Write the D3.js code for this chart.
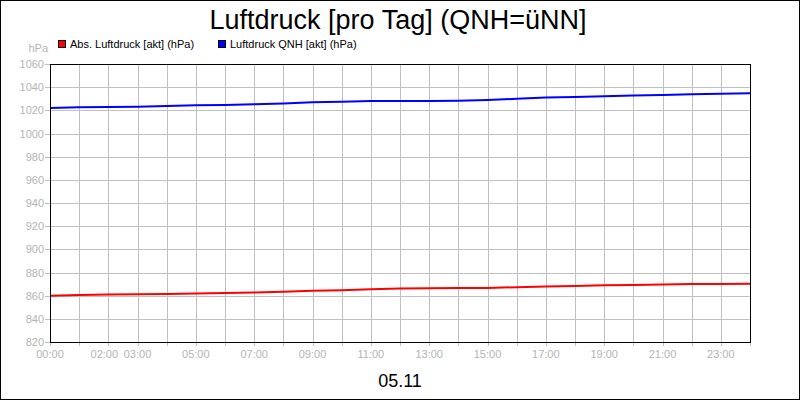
<!DOCTYPE html>
<html>
<head>
<meta charset="utf-8">
<script src="https://cdn.jsdelivr.net/npm/d3@7"></script>
<style>
  html, body { margin: 0; padding: 0; background: #fff; }
  text { font-family: "Liberation Sans", Arial, sans-serif; }
</style>
</head>
<body>
<div class="chart"></div>
<script>
// hourly readings for 05.11, 00:00 .. 24:00
var hours = d3.range(0, 25);
var absPressure = [860.0, 860.6, 860.9, 861.2, 861.4, 861.8, 862.3, 862.7, 863.3, 864.2, 864.7, 865.6, 866.1,
                   866.4, 866.6, 866.7, 867.3, 867.9, 868.4, 869.0, 869.3, 869.7, 870.0, 870.1, 870.3];
var qnhPressure = [1022.0, 1022.6, 1022.9, 1023.2, 1023.7, 1024.3, 1024.7, 1025.2, 1026.0, 1026.9, 1027.5, 1028.0, 1028.1,
                   1028.0, 1028.3, 1028.9, 1030.0, 1031.0, 1031.5, 1032.1, 1032.7, 1033.3, 1033.8, 1034.4, 1034.7];
var yTicks = d3.range(820, 1061, 20);
var xLabelHours = [0, 2, 3, 5, 7, 9, 11, 13, 15, 17, 19, 21, 23];
var seriesNames = ['Abs. Luftdruck [akt] (hPa)', 'Luftdruck QNH [akt] (hPa)'];
var seriesColors = ['#ff0000', '#0000ff'];

var width = 800, height = 400;
var margin = {top: 64, right: 50, bottom: 58, left: 50};

var svg = d3.select('.chart').append('svg').attr('width', width).attr('height', height);
svg.append('rect').attr('x', 0.5).attr('y', 0.5).attr('width', width - 1).attr('height', height - 1)
    .attr('fill', '#fff').attr('stroke', '#000');

var x = d3.scaleLinear().domain([0, 24]).range([margin.left, width - margin.right]);
var y = d3.scaleLinear().domain([820, 1060]).range([height - margin.bottom, margin.top]);

// grid
var grid = svg.append('g').attr('stroke', '#c0c0c0').attr('stroke-width', 1);
grid.selectAll('.vg').data(hours).enter().append('line')
    .attr('x1', function(d) { return Math.round(x(d)) + 0.5; })
    .attr('x2', function(d) { return Math.round(x(d)) + 0.5; })
    .attr('y1', margin.top).attr('y2', height - margin.bottom + 4);
grid.selectAll('.hg').data(yTicks).enter().append('line')
    .attr('x1', margin.left - 5).attr('x2', width - margin.right)
    .attr('y1', function(d) { return Math.round(y(d)) + 0.5; })
    .attr('y2', function(d) { return Math.round(y(d)) + 0.5; });

// y labels
svg.append('g').selectAll('text').data(yTicks).enter().append('text')
    .attr('x', margin.left - 6).attr('y', function(d) { return y(d) + 4; })
    .attr('text-anchor', 'end').attr('font-size', 11).attr('fill', '#b4b4b4')
    .text(function(d) { return d; });
svg.append('text').attr('x', 48).attr('y', 52).attr('text-anchor', 'end')
    .attr('font-size', 11).attr('fill', '#b4b4b4').text('hPa');

// x labels (02:00 nudged left so it does not hit 03:00)
svg.append('g').selectAll('text').data(xLabelHours).enter().append('text')
    .attr('x', function(d) { return x(d) + (d === 2 ? -4 : 0); })
    .attr('y', height - margin.bottom + 16)
    .attr('text-anchor', 'middle').attr('font-size', 11).attr('fill', '#b4b4b4')
    .text(function(d) { return (d < 10 ? '0' : '') + d + ':00'; });

// lines
var line = d3.line().x(function(d, i) { return x(hours[i]); }).y(function(d) { return y(d); });
[absPressure, qnhPressure].forEach(function(s, i) {
    svg.append('path').datum(s).attr('d', line).attr('fill', 'none')
        .attr('stroke', seriesColors[i]).attr('stroke-width', 2).attr('stroke-linejoin', 'round');
});

// plot frame
svg.append('rect').attr('x', margin.left + 0.5).attr('y', margin.top + 0.5)
    .attr('width', width - margin.left - margin.right).attr('height', height - margin.top - margin.bottom)
    .attr('fill', 'none').attr('stroke', '#000');

// title
svg.append('text').attr('x', width / 2 - 2).attr('y', 29).attr('text-anchor', 'middle')
    .attr('font-size', 27).attr('fill', '#000').text('Luftdruck [pro Tag] (QNH=üNN]');

// legend
var legendX = [58, 218];
seriesNames.forEach(function(n, i) {
    svg.append('rect').attr('x', legendX[i] + 0.5).attr('y', 40.5).attr('width', 7).attr('height', 7)
        .attr('fill', seriesColors[i]).attr('stroke', '#000');
    svg.append('text').attr('x', legendX[i] + 12).attr('y', 48).attr('font-size', 11)
        .attr('fill', '#000').text(n);
});

// date
svg.append('text').attr('x', width / 2).attr('y', 387).attr('text-anchor', 'middle')
    .attr('font-size', 18).attr('fill', '#000').text('05.11');
</script>
</body>
</html>
